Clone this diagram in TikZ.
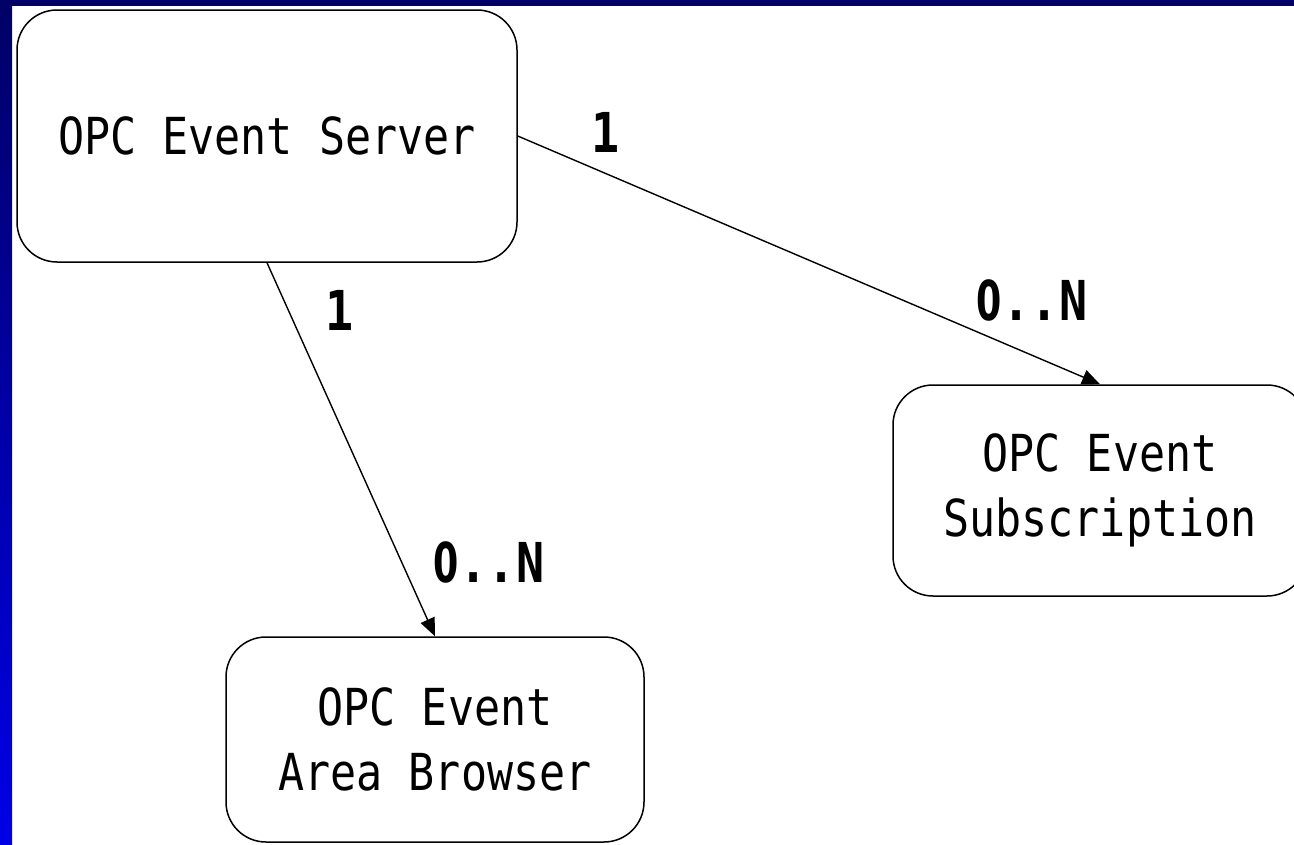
\documentclass[tikz,border=0pt]{standalone}
\usepackage{fontspec}
\usetikzlibrary{arrows.meta}
\newfontfamily\gothic[FakeStretch=0.85]{DejaVu Sans Mono}
\newfontfamily\gothiczero[FakeStretch=0.66]{DejaVu Sans}
\newcommand{\plainzero}{\makebox[0.51em][c]{\gothiczero\bfseries 0}}
\definecolor{navyband}{HTML}{000066}
\definecolor{brightband}{HTML}{0000E8}
\tikzset{
  box/.style={draw=black, line width=1.5pt, rounded corners=40pt, fill=white,
    inner sep=0pt, align=center, font={\gothic\fontsize{51}{65}\selectfont}},
  mult/.style={anchor=base, inner sep=0pt, font={\gothic\bfseries\fontsize{55}{60}\selectfont}},
  link/.style={draw=black, line width=1.4pt, -{Triangle[length=18pt,width=15pt]}}
}
\begin{document}
\begin{tikzpicture}[x=1pt,y=-1pt]
\clip (0,0) rectangle (1294,844);
\fill[white] (0,0) rectangle (1294,844);
% frame bands
\shade[top color=navyband, bottom color=brightband] (0,0) rectangle (12,844);
\fill[navyband] (0,0) rectangle (1294,6);
% boxes
\node[box, minimum width=500pt, minimum height=252pt] (server) at (267,136) {OPC Event Server};
\node[box, minimum width=414pt, minimum height=211pt] (sub) at (1100,490.5) {OPC Event\\Subscription};
\node[box, minimum width=418pt, minimum height=205pt] (browser) at (435,739.5) {OPC Event\\Area Browser};
% connectors
\draw[link] (server.east) -- (sub.north);
\draw[link] (server.south) -- (browser.north);
% multiplicities
\node[mult] (m1) at (606,152) {1};
\node[mult] (m2) at (1031,320) {\plainzero..N};
\node[mult] (m3) at (340,330) {1};
\node[mult] (m4) at (488,582) {\plainzero..N};
\end{tikzpicture}
\end{document}
